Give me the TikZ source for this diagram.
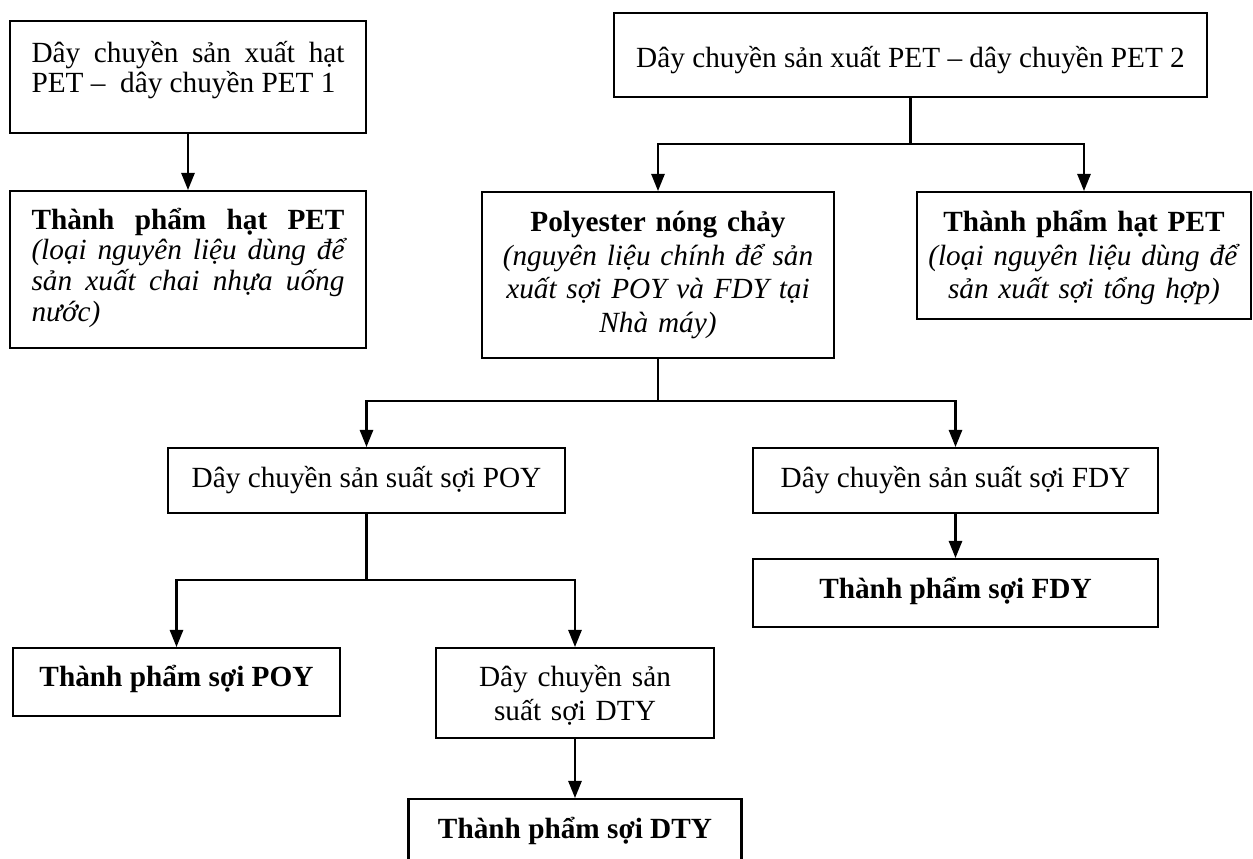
\documentclass[tikz,border=0pt]{standalone}
\usepackage{fontspec}
\setmainfont{Liberation Serif}
\usetikzlibrary{arrows.meta}

\tikzset{
  box/.style={draw, rectangle, line width=0.9pt, inner xsep=0pt, inner ysep=3pt,
              anchor=north, font=\fontsize{12}{13.9}\selectfont},
  tight/.style={font=\fontsize{12}{12.6}\selectfont},
  conn/.style={line width=0.9pt},
  arr/.style={conn, -{Triangle[length=7pt,width=5.4pt]}},
}

\begin{document}
\begin{tikzpicture}[x=0.41pt, y=-0.41pt]
  \fill[white, use as bounding box] (0,0) rectangle (1253,859);

  % first PET line and its product
  \node[box, tight, minimum width=145.96pt, text width=128.33pt, align=justify,
        text height=13.81pt, text depth=26.11pt] (b1) at (188,20)
    {Dây chuyền sản xuất hạt\linebreak PET –\ \ dây chuyền PET 1};
  \node[box, tight, minimum width=145.96pt, text width=128.33pt, align=justify,
        text height=12.58pt, text depth=45.79pt] (b3) at (188,190)
    {\textbf{Thành phẩm hạt PET}\linebreak \itshape (loại nguyên liệu dùng để\linebreak
     sản xuất chai nhựa uống\linebreak nước)};

  % second PET line
  \node[box, minimum width=243.13pt, text height=19.14pt, text depth=9.30pt] (b2) at (910.5,12)
    {Dây chuyền sản xuất PET – dây chuyền PET 2};
  \node[box, minimum width=144.32pt, text width=135.3pt, align=center,
        text height=12.99pt, text depth=49.07pt] (b4) at (658,191)
    {\textbf{Polyester nóng chảy}\\ \textit{(nguyên liệu chính để sản}\\
     \textit{xuất sợi POY và FDY tại}\\ \textit{Nhà máy)}};
  \node[box, minimum width=137.0pt, text width=131.2pt, align=center,
        text height=12.99pt, text depth=33.08pt] (b5) at (1084,191)
    {\textbf{Thành phẩm hạt PET}\\ \textit{(loại nguyên liệu dùng để}\\
     \textit{sản xuất sợi tổng hợp)}};

  % fibre lines
  \node[box, minimum width=162.77pt, text height=12.99pt, text depth=7.66pt] (b6) at (366.5,447)
    {Dây chuyền sản suất sợi POY};
  \node[box, minimum width=166.05pt, text height=12.99pt, text depth=7.66pt] (b7) at (955.5,447)
    {Dây chuyền sản suất sợi FDY};
  \node[box, minimum width=166.05pt, text height=12.99pt, text depth=8.89pt] (b8) at (955.5,558)
    {\textbf{Thành phẩm sợi FDY}};
  \node[box, minimum width=134.07pt, text height=12.58pt, text depth=9.30pt] (b9) at (176.5,647)
    {\textbf{Thành phẩm sợi POY}};
  \node[box, minimum width=113.98pt, text width=106.6pt, align=center,
        text height=12.58pt, text depth=18.32pt] (b10) at (575,647)
    {Dây chuyền sản\\ suất sợi DTY};
  \node[box, minimum width=136.53pt, text height=12.99pt, text depth=22.01pt] (b11) at (575,798)
    {\textbf{Thành phẩm sợi DTY}};

  % branch points
  \coordinate (j1) at (910.5,144);
  \coordinate (j2) at (658,401);
  \coordinate (j3) at (366.5,580);

  % connectors
  \draw[arr] (b1.south) -- (b3.north);
  \draw[conn] (b2.south) -- (j1);
  \draw[arr] (j1) -| (b4.north);
  \draw[arr] (j1) -| (b5.north);
  \draw[conn] (b4.south) -- (j2);
  \draw[arr] (j2) -| (b6.north);
  \draw[arr] (j2) -| (b7.north);
  \draw[arr] (b7.south) -- (b8.north);
  \draw[conn] (b6.south) -- (j3);
  \draw[arr] (j3) -| (b9.north);
  \draw[arr] (j3) -| (b10.north);
  \draw[arr] (b10.south) -- (b11.north);
\end{tikzpicture}
\end{document}
